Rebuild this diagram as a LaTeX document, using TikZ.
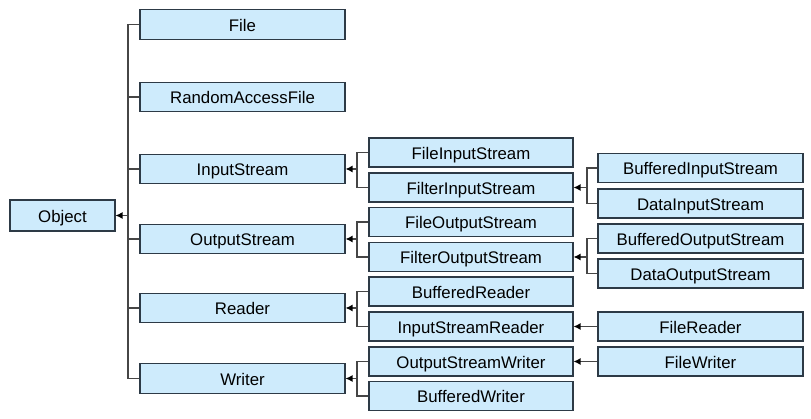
\documentclass[tikz,border=0pt]{standalone}
\usepackage{fontspec}
\setmainfont{Liberation Sans}
\usepackage{tikz}
\usetikzlibrary{arrows.meta}
\definecolor{boxfill}{RGB}{206,235,252}
\definecolor{boxline}{RGB}{45,58,70}
\definecolor{linkline}{RGB}{70,70,70}

\tikzset{
  cls/.style={draw=boxline, line width=1.1pt, fill=boxfill, anchor=center,
    minimum width=205pt, minimum height=29.5pt, inner sep=0pt,
    text height=13.5pt, text depth=0pt,
    font=\fontsize{16.8}{18}\selectfont},
  link/.style={draw=linkline, line width=1.2pt},
  arr/.style={link, -{Latex[length=7pt,width=7pt,black]}}
}

\begin{document}
\begin{tikzpicture}[x=1pt,y=-1pt]
\useasboundingbox (0,0) rectangle (811,419);
\node[cls, minimum width=105pt, minimum height=31pt] (obj) at (62.5,215.5) {Object};
\node[cls] (file) at (242.5,24.5) {File};
\node[cls] (raf) at (242.5,97) {RandomAccessFile};
\node[cls] (is) at (242.5,169) {InputStream};
\node[cls] (os) at (242.5,239) {OutputStream};
\node[cls] (rd) at (242.5,308) {Reader};
\node[cls] (wr) at (242.5,378.5) {Writer};
\node[cls, minimum width=204pt, minimum height=29pt] (fis) at (471,152.5) {FileInputStream};
\node[cls, minimum width=204pt, minimum height=29pt] (filis) at (471,187.5) {FilterInputStream};
\node[cls, minimum width=204pt, minimum height=29pt] (fos) at (471,222) {FileOutputStream};
\node[cls, minimum width=204pt, minimum height=29pt] (filos) at (471,257) {FilterOutputStream};
\node[cls, minimum width=204pt, minimum height=29pt] (brd) at (471,291.5) {BufferedReader};
\node[cls, minimum width=204pt, minimum height=29pt] (isr) at (471,326.5) {InputStreamReader};
\node[cls, minimum width=204pt, minimum height=29pt] (osw) at (471,361.5) {OutputStreamWriter};
\node[cls, minimum width=204pt, minimum height=29pt] (bwr) at (471,396) {BufferedWriter};
\node[cls, minimum height=29pt] (bis) at (700.5,168) {BufferedInputStream};
\node[cls, minimum height=29pt] (dis) at (700.5,203.5) {DataInputStream};
\node[cls, minimum height=29pt] (bos) at (700.5,238.5) {BufferedOutputStream};
\node[cls, minimum height=29pt] (dos) at (700.5,273.5) {DataOutputStream};
\node[cls, minimum height=29pt] (frd) at (700.5,326.5) {FileReader};
\node[cls, minimum height=29pt] (fwr) at (700.5,361.5) {FileWriter};

\coordinate (jobj) at (128,215.5);
\coordinate (jis) at (357,169);
\coordinate (jos) at (357,239);
\coordinate (jrd) at (357,308);
\coordinate (jwr) at (357,378.5);
\coordinate (jfilis) at (587,187.5);
\coordinate (jfilos) at (587,257);

\draw[link] (file.west) -| (jobj);
\draw[link] (raf.west) -| (jobj);
\draw[link] (is.west) -| (jobj);
\draw[link] (os.west) -| (jobj);
\draw[link] (rd.west) -| (jobj);
\draw[link] (wr.west) -| (jobj);
\draw[arr] (jobj) -- (obj.east);

\draw[link] (fis.west) -| (jis);
\draw[link] (filis.west) -| (jis);
\draw[arr] (jis) -- (is.east);
\draw[link] (fos.west) -| (jos);
\draw[link] (filos.west) -| (jos);
\draw[arr] (jos) -- (os.east);
\draw[link] (brd.west) -| (jrd);
\draw[link] (isr.west) -| (jrd);
\draw[arr] (jrd) -- (rd.east);
\draw[link] (osw.west) -| (jwr);
\draw[link] (bwr.west) -| (jwr);
\draw[arr] (jwr) -- (wr.east);

\draw[link] (bis.west) -| (jfilis);
\draw[link] (dis.west) -| (jfilis);
\draw[arr] (jfilis) -- (filis.east);
\draw[link] (bos.west) -| (jfilos);
\draw[link] (dos.west) -| (jfilos);
\draw[arr] (jfilos) -- (filos.east);
\draw[arr] (frd.west) -- (isr.east);
\draw[arr] (fwr.west) -- (osw.east);
\end{tikzpicture}
\end{document}
